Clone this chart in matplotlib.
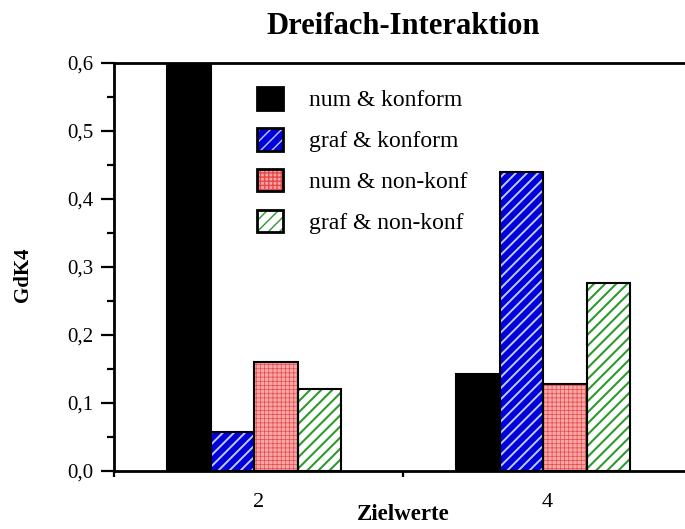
import matplotlib
matplotlib.use("Agg")
import matplotlib.pyplot as plt
from matplotlib.patches import Patch
from matplotlib.legend_handler import HandlerTuple
from matplotlib.ticker import MultipleLocator, FuncFormatter
import numpy as np

# Daten
gruppen = [2, 4]
gruppen_labels = ["2", "4"]
serien = ["num & konform", "graf & konform", "num & non-konf", "graf & non-konf"]
num_konform = [0.60, 0.142]
graf_konform = [0.058, 0.44]
num_nonkonf = [0.160, 0.128]
graf_nonkonf = [0.121, 0.277]
werte = [num_konform, graf_konform, num_nonkonf, graf_nonkonf]

# Stil je Serie: Füllfarbe, Schraffurfarbe, Schraffur, Schraffur-Linienbreite
stile = [
    ("black", "black", None, 1.0),
    ("#0000d8", "#c4c8ff", "///", 1.4),
    ("#f6a8a8", "#e84848", "++++", 0.5),
    ("white", "#2e9a2e", "///", 1.5),
]

plt.rcParams['font.family'] = ['Liberation Serif', 'DejaVu Serif']

fig = plt.figure(figsize=(6.85, 5.29), dpi=100)
ax = fig.add_axes([114 / 685, 58 / 529, 578 / 685, 408 / 529])

breite = 0.3
x = np.array(gruppen) - 0.03
offsets = [-1.5, -0.5, 0.5, 1.5]

handles = []
for i, (name, vals) in enumerate(zip(serien, werte)):
    face, hcol, hatch, hlw = stile[i]
    pos = x + offsets[i] * breite
    with plt.rc_context({'hatch.linewidth': hlw}):
        ax.bar(pos, vals, breite, color=face, edgecolor=hcol, hatch=hatch,
               linewidth=0, zorder=2)
        p1 = Patch(facecolor=face, edgecolor=hcol, hatch=hatch, linewidth=0)
    ax.bar(pos, vals, breite, fill=False, edgecolor="black", linewidth=1.5,
           zorder=3)
    p2 = Patch(fill=False, edgecolor="black", linewidth=2)
    handles.append((p1, p2))

ax.set_xlim(1.0, 5.0)
ax.set_ylim(0, 0.6)
ax.set_xticks([1, 3, 5])
ax.set_xticklabels(["", "", ""])
ax.set_xticks(gruppen, minor=True)
ax.set_xticklabels(gruppen_labels, minor=True)
ax.yaxis.set_major_locator(MultipleLocator(0.1))
ax.yaxis.set_minor_locator(MultipleLocator(0.05))
ax.yaxis.set_major_formatter(FuncFormatter(lambda v, p: f"{v:.1f}".replace(".", ",")))

for s in ax.spines.values():
    s.set_linewidth(2)
ax.tick_params(axis='y', which='major', direction='out', length=9.5, width=1.6,
               labelsize=15, pad=5)
ax.tick_params(axis='y', which='minor', direction='out', length=5, width=1.6)
ax.tick_params(axis='x', which='major', direction='out', length=4.5, width=1.6)
ax.tick_params(axis='x', which='minor', length=0, labelsize=16, pad=16)

ax.set_title("Dreifach-Interaktion", fontsize=22, fontweight='bold', pad=21)
ax.set_xlabel("Zielwerte", fontsize=16.5, fontweight='bold', labelpad=-6)
ax.set_ylabel("GdK4", fontsize=15, fontweight='bold')
ax.yaxis.set_label_coords(-0.14, 0.48)

ax.legend(handles, serien, handler_map={tuple: HandlerTuple(ndivide=1, pad=0)},
          loc='upper left', bbox_to_anchor=(257 / 685, 1 - 87 / 529),
          bbox_transform=fig.transFigure, frameon=False, fontsize=17,
          handlelength=1.1, handleheight=1.1, handletextpad=1.1,
          labelspacing=0.7, borderpad=0, borderaxespad=0)

fig.savefig("out.png", dpi=100)
